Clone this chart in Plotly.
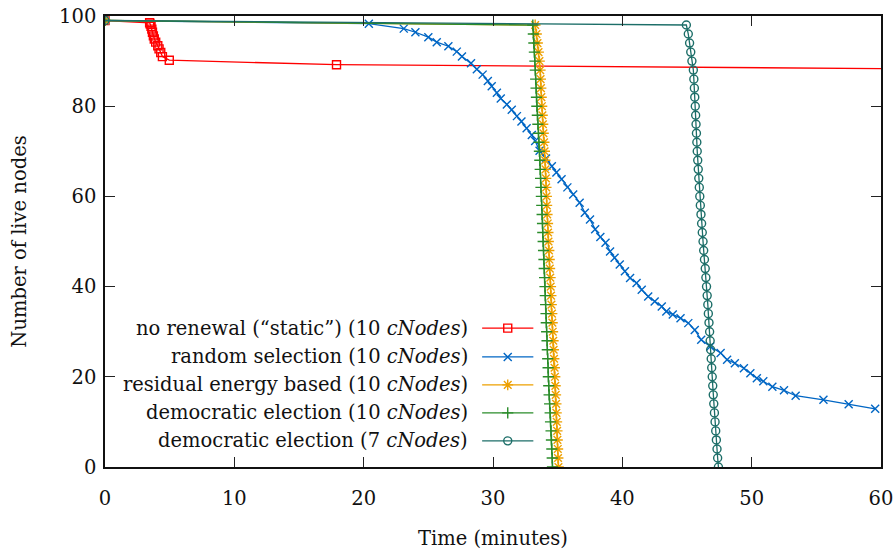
import plotly.graph_objects as go

# ---------------- data ----------------
static_x = [0, 3.45, 3.5, 3.56, 3.62, 3.67, 3.74, 3.81, 3.92, 4.08, 4.18, 4.31, 4.44, 4.97, 17.9, 62]
static_y = [99, 98.5, 98.2, 97.7, 97.1, 96.4, 95.6, 94.9, 94.2, 93.4, 92.7, 91.9, 91.0, 90.2, 89.2, 88.3]

random_x = [0, 20.4, 23.1, 24.0, 25.0, 25.65, 26.55, 27.2, 27.6, 28.3, 28.75, 29.2, 29.6, 29.9,
            30.3, 30.6, 31.07, 31.45, 31.85, 32.2, 32.6, 33.0, 33.26, 33.6, 34.1, 34.55, 34.9,
            35.3, 35.75, 36.2, 36.7, 37.1, 37.5, 37.9, 38.3, 38.7, 39.05, 39.4, 39.8, 40.2, 40.6,
            41.1, 41.5, 42.0, 42.5, 43.05, 43.4, 43.9, 44.5, 45.1, 45.6, 46.1, 46.8, 47.6, 48.1,
            48.7, 49.4, 49.9, 50.4, 50.9, 51.6, 52.5, 53.4, 55.55, 57.5, 59.55]
random_y = [99, 98.3, 97.2, 96.4, 95.3, 94.2, 93.3, 92.1, 91.0, 89.5, 88.2, 87.0, 85.6, 84.4,
            83.0, 81.7, 80.4, 79.2, 77.8, 76.6, 75.1, 73.6, 72.3, 70.1, 68.4, 66.7, 65.3,
            63.8, 62.0, 60.4, 58.6, 56.4, 54.9, 52.7, 51.0, 49.7, 47.8, 46.4, 44.9, 43.4, 41.9,
            40.8, 39.3, 37.8, 36.7, 35.6, 34.5, 33.8, 33.0, 31.9, 30.4, 28.2, 26.7, 25.3, 23.8,
            23.0, 21.9, 20.8, 19.7, 19.0, 17.8, 17.0, 15.8, 14.9, 13.9, 12.9]

drop_y = [98, 96, 94, 92, 90, 88, 86, 84, 82, 80, 78, 76, 74, 72, 70, 68, 66, 64, 62, 60,
          58, 56, 54, 52, 50, 48, 46, 44, 42, 40, 38, 36, 34, 32, 30, 28, 26, 24, 22, 20,
          18, 16, 14, 12, 10, 8, 6, 4, 2, 0]

residual_x = [33.26, 33.36, 33.44, 33.52, 33.59, 33.65, 33.68, 33.71, 33.74, 33.78, 33.82, 33.86,
              33.9, 33.95, 33.99, 34.03, 34.06, 34.09, 34.11, 34.14, 34.16, 34.19, 34.23, 34.26,
              34.29, 34.33, 34.36, 34.39, 34.43, 34.46, 34.49, 34.52, 34.56, 34.59, 34.62, 34.66,
              34.69, 34.72, 34.76, 34.79, 34.82, 34.85, 34.88, 34.9, 34.93, 34.96, 34.98, 35.01,
              35.03, 35.06]

dem10_x = [33.08, 33.12, 33.16, 33.2, 33.24, 33.27, 33.3, 33.33, 33.36, 33.39, 33.43, 33.47,
           33.51, 33.55, 33.59, 33.62, 33.65, 33.68, 33.71, 33.74, 33.77, 33.8, 33.83, 33.85,
           33.88, 33.91, 33.94, 33.96, 33.99, 34.02, 34.04, 34.07, 34.1, 34.12, 34.15, 34.18,
           34.2, 34.23, 34.26, 34.28, 34.31, 34.34, 34.38, 34.42, 34.45, 34.49, 34.52, 34.55,
           34.58, 34.6]

dem7_x = [44.95, 45.1, 45.2, 45.29, 45.38, 45.49, 45.53, 45.57, 45.6, 45.64, 45.67, 45.7,
          45.73, 45.76, 45.79, 45.83, 45.87, 45.91, 45.95, 45.99, 46.03, 46.08, 46.13, 46.18,
          46.24, 46.29, 46.35, 46.41, 46.46, 46.51, 46.56, 46.61, 46.65, 46.7, 46.75, 46.79,
          46.83, 46.87, 46.91, 46.95, 46.99, 47.03, 47.07, 47.12, 47.17, 47.22, 47.27, 47.32,
          47.37, 47.43]

start_x = [0]
start_y = [99]

names = ["no renewal (\u201cstatic\u201d) (10 <i>cNodes</i>)",
         "random selection (10 <i>cNodes</i>)",
         "residual energy based (10 <i>cNodes</i>)",
         "democratic election (10 <i>cNodes</i>)",
         "democratic election (7 <i>cNodes</i>)"]

x_ticks = [0, 10, 20, 30, 40, 50, 60]
y_ticks = [0, 20, 40, 60, 80, 100]

# ---------------- styles ----------------
colors = ["#ff0000", "#0066c4", "#eda000", "#2a8c2a", "#1c6e68"]
symbols = ["square-open", "x-thin-open", "asterisk-open", "cross-thin-open", "circle-open"]
msizes = [8, 8, 9, 8, 8]

series = [
    (static_x, static_y),
    (random_x, random_y),
    (start_x + residual_x, start_y + drop_y),
    (start_x + dem10_x, start_y + drop_y),
    (start_x + dem7_x, start_y + drop_y),
]

FONT = "DejaVu Serif"
FS = 19.5
fig = go.Figure()

for i, (xs, ys) in enumerate(series):
    fig.add_trace(go.Scatter(
        x=xs, y=ys, mode="lines+markers",
        line=dict(color=colors[i], width=1.3),
        marker=dict(symbol=symbols[i], size=msizes[i], color=colors[i],
                    line=dict(color=colors[i], width=1.4)),
        showlegend=False, hoverinfo="skip"))

# manual gnuplot-style key (text left of sample)
key_y = [0.308, 0.244, 0.182, 0.120, 0.058]
key_text_x = 0.470
key_x0, key_x1, key_xm = 0.486, 0.552, 0.519
for i in range(5):
    fig.add_trace(go.Scatter(
        x=[key_x0, key_x1], y=[key_y[i], key_y[i]], mode="lines",
        line=dict(color=colors[i], width=1.3), xaxis="x2", yaxis="y2",
        showlegend=False, hoverinfo="skip"))
    fig.add_trace(go.Scatter(
        x=[key_xm], y=[key_y[i]], mode="markers",
        marker=dict(symbol=symbols[i], size=msizes[i], color=colors[i],
                    line=dict(color=colors[i], width=1.4)),
        xaxis="x2", yaxis="y2", showlegend=False, hoverinfo="skip"))
    fig.add_annotation(x=key_text_x, y=key_y[i], xref="paper", yref="paper",
                       text=names[i], showarrow=False, xanchor="right", yanchor="middle",
                       font=dict(family=FONT, size=FS, color="#111"))

axis_common = dict(showline=True, linecolor="#111", linewidth=1.6, mirror="ticks",
                   ticks="inside", ticklen=10, tickwidth=1.3, tickcolor="#222",
                   showgrid=False, zeroline=False, automargin=False,
                   ticklabeloverflow="allow",
                   tickfont=dict(family=FONT, size=FS, color="#111"))

fig.update_layout(
    width=893, height=553,
    margin=dict(l=105, r=12, t=16, b=86),
    plot_bgcolor="white", paper_bgcolor="white",
    xaxis=dict(range=[0, 60], tickvals=x_ticks, ticklabelstandoff=13,
               title=dict(text="Time (minutes)", font=dict(family=FONT, size=FS, color="#111"),
                          standoff=22),
               **axis_common),
    yaxis=dict(range=[0, 100], tickvals=y_ticks, ticklabelstandoff=3,
               title=dict(text="Number of live nodes", font=dict(family=FONT, size=FS, color="#111"),
                          standoff=27),
               **axis_common),
    xaxis2=dict(range=[0, 1], overlaying="x", visible=False, fixedrange=True),
    yaxis2=dict(range=[0, 1], overlaying="y", visible=False, fixedrange=True),
)

# remove the default 8px page margin so the figure fills the window exactly
fig.write_html("out.html", config={"displayModeBar": False},
               post_script="document.body.style.margin='0';")
